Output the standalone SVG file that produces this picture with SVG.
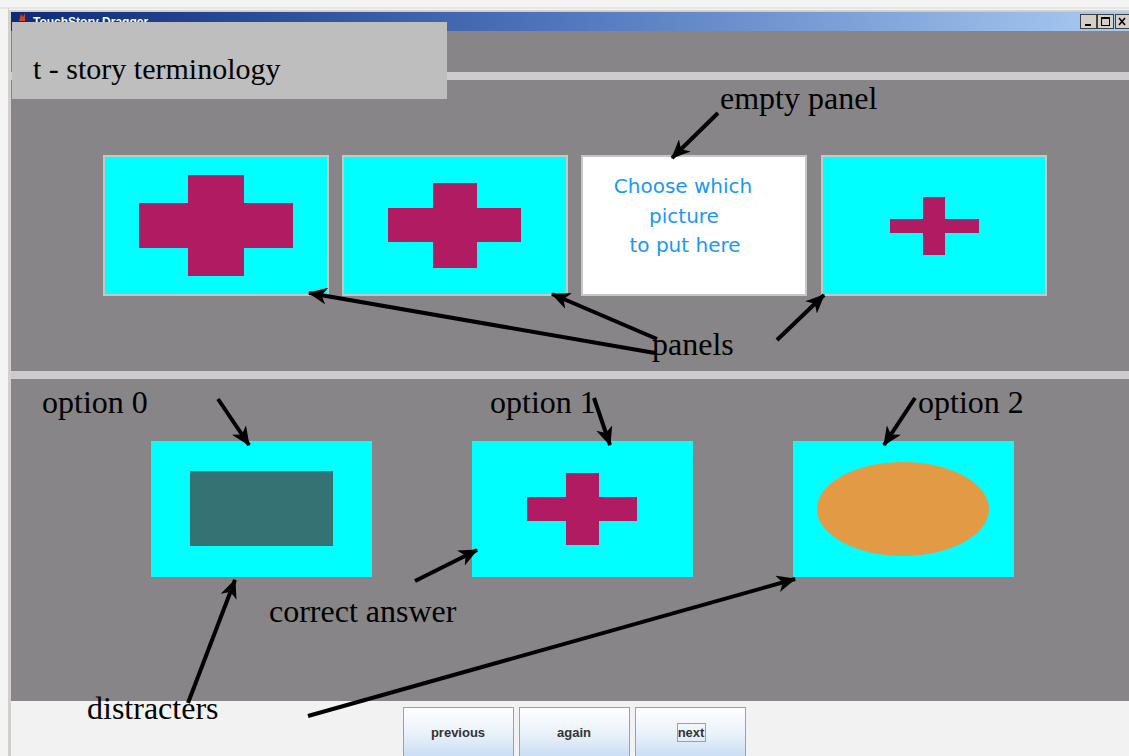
<svg xmlns="http://www.w3.org/2000/svg" width="1129" height="756" viewBox="0 0 1129 756">
  <defs>
    <linearGradient id="titleGrad" x1="0" y1="0" x2="1" y2="0">
      <stop offset="0" stop-color="#0c2a78"/>
      <stop offset="0.45" stop-color="#4a6fb8"/>
      <stop offset="1" stop-color="#a9cbf2"/>
    </linearGradient>
    <linearGradient id="btnGrad" x1="0" y1="0" x2="0" y2="1">
      <stop offset="0" stop-color="#ffffff"/>
      <stop offset="0.5" stop-color="#eaf2fb"/>
      <stop offset="1" stop-color="#c6daf2"/>
    </linearGradient>
    <marker id="arrow" viewBox="0 0 18 16" refX="17" refY="8" markerWidth="19" markerHeight="17" markerUnits="userSpaceOnUse" orient="auto">
      <path d="M18,8 L0,0 L5,8 L0,16 z" fill="#000"/>
    </marker>
    <style>
      .bg { fill: #878587; }
      .sep { fill: #cdcbcd; }
      .panel { fill: #00ffff; stroke: #c6c6c6; stroke-width: 2; }
      .empty { fill: #ffffff; stroke: #c6c6c6; stroke-width: 2; }
      .option { fill: #00ffff; }
      .cross { fill: #b01b62; }
      .label { font-family: "Liberation Serif", "Times New Roman", serif; font-size: 32px; fill: #000; }
      .heading-text { font-size: 30px; }
      .hint { font-family: "DejaVu Sans", "Comic Sans MS", sans-serif; font-size: 20px; fill: #1a98f4; text-anchor: middle; }
      .btn { fill: url(#btnGrad); stroke: #8da4bd; stroke-width: 1; }
      .btntext { font-family: "Liberation Sans", Arial, sans-serif; font-size: 13px; font-weight: bold; fill: #333; text-anchor: middle; }
      .wbtn { fill: #d4d0c8; stroke: #404040; stroke-width: 1; }
      .conn line { stroke: #000; stroke-width: 4; marker-end: url(#arrow); }
    </style>
  </defs>

  <!-- desktop margin and window frame -->
  <rect x="0" y="0" width="1129" height="756" fill="#f4f4f4"/>
  <line x1="0" y1="8" x2="1129" y2="8" stroke="#d8d8d8" stroke-width="1"/>
  <line x1="8.5" y1="8" x2="8.5" y2="756" stroke="#d0d0d0" stroke-width="1"/>
  <rect x="9" y="10" width="1120" height="746" fill="#d4d0c8"/>

  <!-- title bar -->
  <rect x="11" y="12" width="1118" height="19" fill="url(#titleGrad)"/>
  <path d="M19,21 L21,14 L23,17 L25,13 L25,21 Z" fill="#d84020"/>
  <text x="33" y="26" font-family="Liberation Sans, Arial, sans-serif" font-size="12" font-weight="bold" fill="#ffffff">TouchStory Dragger</text>
  <g id="window-buttons">
    <rect class="wbtn" x="1080.5" y="14.5" width="16" height="14"/>
    <rect x="1085" y="24" width="6" height="2" fill="#000"/>
    <rect class="wbtn" x="1097.5" y="14.5" width="16" height="14"/>
    <rect x="1101.5" y="17.5" width="8" height="8" fill="none" stroke="#000" stroke-width="1"/>
    <line x1="1101" y1="18.5" x2="1110" y2="18.5" stroke="#000" stroke-width="1"/>
    <rect class="wbtn" x="1115.5" y="14.5" width="16" height="14"/>
    <path d="M1119,18 L1125,25 M1125,18 L1119,25" stroke="#000" stroke-width="1.6"/>
  </g>

  <!-- content areas -->
  <rect class="bg" x="11" y="31" width="1118" height="41"/>
  <rect class="sep" x="11" y="72" width="1118" height="8"/>
  <rect class="bg" x="11" y="80" width="1118" height="291"/>
  <rect class="sep" x="11" y="371" width="1118" height="8"/>
  <rect class="bg" x="11" y="379" width="1118" height="322"/>
  <rect x="11" y="701" width="1118" height="55" fill="#f2f2f2"/>

  <!-- heading label -->
  <g id="heading">
    <rect x="12" y="22" width="435" height="77" fill="#bebebe"/>
    <text class="label heading-text" x="33" y="79">t - story terminology</text>
  </g>

  <!-- story panels -->
  <g id="panel-1">
    <rect class="panel" x="104" y="156" width="224" height="139"/>
    <path class="cross" d="M188,175 H244 V203 H293 V248 H244 V276 H188 V248 H139 V203 H188 Z"/>
  </g>
  <g id="panel-2">
    <rect class="panel" x="343" y="156" width="224" height="139"/>
    <path class="cross" d="M433,183 H477 V208 H521 V242 H477 V268 H433 V242 H388 V208 H433 Z"/>
  </g>
  <g id="panel-3-empty">
    <rect class="empty" x="582" y="156" width="224" height="139"/>
    <text class="hint" x="683" y="193">Choose which</text>
    <text class="hint" x="684" y="223">picture</text>
    <text class="hint" x="685" y="252">to put here</text>
  </g>
  <g id="panel-4">
    <rect class="panel" x="822" y="156" width="224" height="139"/>
    <path class="cross" d="M923,197 H945 V219 H979 V233 H945 V255 H923 V233 H890 V219 H923 Z"/>
  </g>

  <!-- answer options -->
  <g id="option-0">
    <rect class="option" x="151" y="441" width="221" height="136"/>
    <rect x="190" y="471" width="143" height="75" fill="#347373"/>
  </g>
  <g id="option-1">
    <rect class="option" x="472" y="441" width="221" height="136"/>
    <path class="cross" d="M566,473 H599 V497 H637 V521 H599 V545 H566 V521 H527 V497 H566 Z"/>
  </g>
  <g id="option-2">
    <rect class="option" x="793" y="441" width="221" height="136"/>
    <ellipse cx="903" cy="509" rx="86" ry="47" fill="#e39a44"/>
  </g>

  <!-- annotation labels -->
  <g id="labels">
    <text class="label" x="720" y="109">empty panel</text>
    <text class="label" x="652" y="355">panels</text>
    <text class="label" x="42" y="413">option 0</text>
    <text class="label" x="490" y="413">option 1</text>
    <text class="label" x="918" y="413">option 2</text>
    <text class="label" x="269" y="622">correct answer</text>
    <text class="label" x="87" y="719">distracters</text>
  </g>

  <!-- annotation arrows -->
  <g id="connectors" class="conn">
    <line x1="718" y1="113" x2="672" y2="158"/>
    <line x1="655" y1="353" x2="309" y2="293"/>
    <line x1="657" y1="339" x2="552" y2="294"/>
    <line x1="777" y1="340" x2="824" y2="295"/>
    <line x1="218" y1="399" x2="249" y2="445"/>
    <line x1="594" y1="398" x2="610" y2="445"/>
    <line x1="915" y1="398" x2="884" y2="445"/>
    <line x1="415" y1="581" x2="477" y2="550"/>
    <line x1="188" y1="703" x2="235" y2="580"/>
    <line x1="308" y1="716" x2="795" y2="579"/>
  </g>

  <!-- navigation buttons -->
  <g id="btn-previous">
    <rect class="btn" x="403.5" y="707.5" width="110" height="52"/>
    <text class="btntext" x="458" y="737">previous</text>
  </g>
  <g id="btn-again">
    <rect class="btn" x="519.5" y="707.5" width="110" height="52"/>
    <text class="btntext" x="574" y="737">again</text>
  </g>
  <g id="btn-next">
    <rect class="btn" x="635.5" y="707.5" width="110" height="52"/>
    <rect x="677.5" y="723.5" width="28" height="18" fill="none" stroke="#8da4bd" stroke-width="1"/>
    <text class="btntext" x="691" y="737">next</text>
  </g>
</svg>
